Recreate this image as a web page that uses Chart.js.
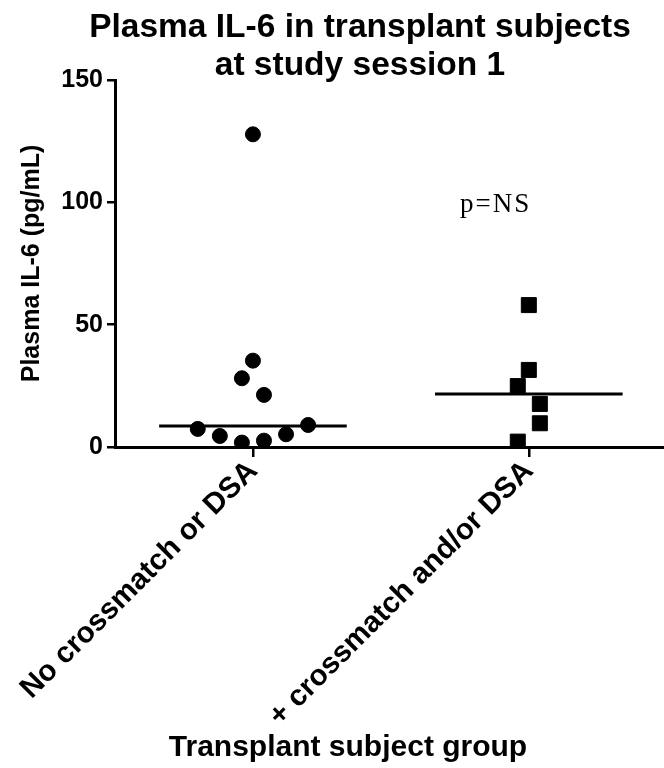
<!DOCTYPE html>
<html>
<head>
<meta charset="utf-8">
<script src="https://cdn.jsdelivr.net/npm/chart.js@4/dist/chart.umd.min.js"></script>
<style>
  html, body { margin: 0; padding: 0; background: #fff; }
  #wrap { width: 664px; height: 768px; position: relative; }
</style>
</head>
<body>
<div id="wrap"><canvas id="chart"></canvas></div>
<script>
const groups = ['No crossmatch or DSA', '+ crossmatch and/or DSA'];

// IL-6 values (pg/mL), with the horizontal scatter offsets
const noDsaValues = [127.8, 35.3, 28.1, 21.3, 7.4, 4.5, 1.8, 2.6, 5.2, 9.0];
const noDsaJitter = [0, 0, -0.04, 0.04, -0.2, -0.12, -0.04, 0.04, 0.12, 0.2];
const dsaValues = [58.0, 31.5, 24.9, 17.6, 9.7, 2.2];
const dsaJitter = [0, 0, -0.04, 0.04, 0.04, -0.04];

const medians = [8.6, 21.7];
const medianHalfWidth = 0.34;
const yTicks = [0, 50, 100, 150];

const titleLines = ['Plasma IL-6 in transplant subjects', 'at study session 1'];
const xTitle = 'Transplant subject group';
const yTitle = 'Plasma IL-6 (pg/mL)';
const note = 'p=NS';

const toPoints = (vals, jit, g) => vals.map((v, i) => ({ x: g + jit[i], y: v }));
const medianLine = g => [
    { x: g + 1 - medianHalfWidth, y: medians[g] },
    { x: g + 1 + medianHalfWidth, y: medians[g] }
];

const sans = '"Liberation Sans", Arial, sans-serif';
const boldFont = size => ({ family: sans, size: size, weight: 'bold' });

// titles sit off-centre in the original, so they are drawn here
const textLayer = {
    id: 'textLayer',
    afterDraw(chart) {
        const { ctx, scales: { x, y } } = chart;
        ctx.save();
        ctx.fillStyle = '#000';
        ctx.textAlign = 'center';
        ctx.textBaseline = 'alphabetic';
        ctx.font = 'bold 33.5px ' + sans;
        ctx.fillText(titleLines[0], 360, 37);
        ctx.fillText(titleLines[1], 360, 75);
        ctx.font = 'bold 30px ' + sans;
        ctx.fillText(xTitle, 348, 756);
        ctx.font = '27px "Liberation Serif", "Times New Roman", serif';
        if ('letterSpacing' in ctx) ctx.letterSpacing = '2px';
        ctx.fillText(note, x.getPixelForValue(1.88), y.getPixelForValue(96));
        ctx.restore();
    }
};

new Chart(document.getElementById('chart'), {
    type: 'scatter',
    data: {
        datasets: [
            {
                label: groups[0],
                data: toPoints(noDsaValues, noDsaJitter, 1),
                pointStyle: 'circle',
                pointRadius: 7.5,
                backgroundColor: '#000',
                borderColor: '#000'
            },
            {
                label: groups[1],
                data: toPoints(dsaValues, dsaJitter, 2),
                pointStyle: 'rect',
                pointRadius: 10.6,
                backgroundColor: '#000',
                borderColor: '#000'
            },
            {
                type: 'line',
                data: medianLine(0),
                borderColor: '#000',
                borderWidth: 3,
                pointRadius: 0
            },
            {
                type: 'line',
                data: medianLine(1),
                borderColor: '#000',
                borderWidth: 3,
                pointRadius: 0
            }
        ]
    },
    options: {
        responsive: true,
        maintainAspectRatio: false,
        animation: false,
        layout: { autoPadding: false, padding: { left: 0, right: 0, top: 80, bottom: 0 } },
        plugins: {
            legend: { display: false },
            tooltip: { enabled: false },
            title: { display: false }
        },
        scales: {
            x: {
                type: 'linear',
                min: 0.5,
                max: 2.49,
                afterBuildTicks: s => { s.ticks = [{ value: 1 }, { value: 2 }]; },
                afterFit: s => {
                    s.height = 321;
                    s.paddingLeft = 0;
                    s.paddingRight = 0;
                },
                ticks: {
                    color: '#000',
                    font: boldFont(29.5),
                    minRotation: 45,
                    maxRotation: 45,
                    padding: -3,
                    callback: v => groups[v - 1]
                },
                grid: {
                    drawOnChartArea: false,
                    color: '#000',
                    lineWidth: 2.5,
                    tickLength: 10
                },
                border: { color: '#000', width: 3 }
            },
            y: {
                min: 0,
                max: 150,
                afterBuildTicks: s => { s.ticks = yTicks.map(v => ({ value: v })); },
                afterFit: s => { s.width = 115; },
                ticks: {
                    color: '#000',
                    font: boldFont(25),
                    padding: 4
                },
                grid: {
                    drawOnChartArea: false,
                    color: '#000',
                    lineWidth: 2.5,
                    tickLength: 8
                },
                border: { color: '#000', width: 3 },
                title: {
                    display: true,
                    text: yTitle,
                    color: '#000',
                    font: boldFont(25),
                    padding: { top: 17, bottom: 0 }
                }
            }
        }
    },
    plugins: [textLayer]
});
</script>
</body>
</html>
